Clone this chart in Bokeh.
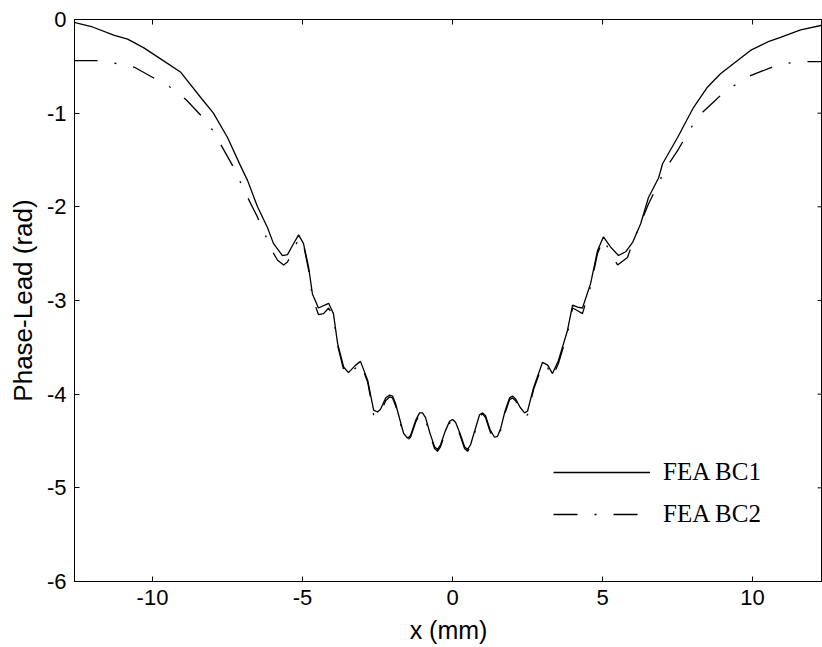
import math
from bokeh.plotting import figure
from bokeh.models import Range1d, Legend, LegendItem, FixedTicker
from bokeh.embed import file_html
from bokeh.resources import INLINE

# ---- data ----
bc1_x = [-12.63, -12.0, -11.27, -10.83, -10.3, -9.73, -9.07, -8.4, -7.97, -7.5, -7.07, -6.83,
         -6.5, -6.17, -5.97, -5.67, -5.5, -5.33, -5.13, -4.97, -4.8, -4.67, -4.47, -4.13, -3.97,
         -3.83, -3.63, -3.47, -3.23, -3.07, -2.83, -2.63, -2.5, -2.4, -2.23, -2.1, -2.0, -1.9,
         -1.8, -1.63, -1.5, -1.4, -1.23, -1.1, -1.0, -0.9, -0.75, -0.6, -0.5, -0.4, -0.25, -0.1,
         0.0, 0.1, 0.25, 0.4, 0.5, 0.6, 0.75, 0.9, 1.0, 1.1, 1.25, 1.4, 1.5, 1.6, 1.75, 1.9,
         2.0, 2.1, 2.25, 2.4, 2.5, 2.7, 3.0, 3.17, 3.33, 3.53, 3.83, 4.0, 4.17, 4.33, 4.6, 4.83,
         5.03, 5.27, 5.53, 5.77, 6.0, 6.27, 6.53, 6.87, 7.0, 7.5, 8.03, 8.5, 8.93, 9.37, 9.93,
         10.5, 10.93, 11.6, 12.33]
bc1_y = [-0.03, -0.08, -0.17, -0.21, -0.3, -0.42, -0.56, -0.83, -1.0, -1.26, -1.56, -1.72,
         -2.0, -2.22, -2.39, -2.52, -2.51, -2.41, -2.3, -2.39, -2.64, -2.93, -3.08, -3.03, -3.14,
         -3.46, -3.71, -3.77, -3.69, -3.65, -3.85, -4.17, -4.19, -4.16, -4.04, -4.01, -4.02, -4.1,
         -4.22, -4.42, -4.47, -4.44, -4.28, -4.2, -4.2, -4.25, -4.42, -4.56, -4.59, -4.54, -4.4, -4.29,
         -4.27, -4.3, -4.42, -4.56, -4.59, -4.54, -4.38, -4.22, -4.2, -4.23, -4.38, -4.46, -4.45, -4.37, -4.18, -4.04,
         -4.02, -4.05, -4.14, -4.2, -4.18, -3.93, -3.66, -3.69, -3.78, -3.64, -3.32, -3.05, -3.07, -3.08, -2.82, -2.47,
         -2.32, -2.43, -2.52, -2.48, -2.38, -2.18, -1.9, -1.69, -1.54, -1.26, -0.94, -0.72, -0.58, -0.47, -0.33,
         -0.24, -0.19, -0.11, -0.06]

bc2_x = [-12.63, -11.83, -11.2, -10.6, -9.93, -9.37, -8.87, -8.4, -8.0, -7.33, -6.83, -6.5,
         -6.23, -6.0, -5.83, -5.63, -5.5, -5.3, -5.1, -4.97, -4.8, -4.67, -4.47, -4.3, -4.13,
         -3.97, -3.83, -3.63, -3.47, -3.23, -3.07, -2.83, -2.63, -2.5, -2.4, -2.23, -2.1, -2.0,
         -1.9, -1.8, -1.63, -1.5, -1.4, -1.23, -1.1, -1.0, -0.9, -0.75, -0.6, -0.5, -0.4, -0.25,
         -0.1, 0.0, 0.1, 0.25, 0.4, 0.5, 0.6, 0.75, 0.9, 1.0, 1.1, 1.25, 1.4, 1.5, 1.6, 1.75,
         1.9, 2.0, 2.1, 2.25, 2.4, 2.5, 2.7, 3.0, 3.17, 3.33, 3.53, 3.83, 4.0, 4.17, 4.33, 4.6, 4.83,
         5.03, 5.27, 5.5, 5.83, 6.03, 6.53, 7.1, 7.5, 7.83, 8.17, 8.7, 9.1, 9.93, 10.87, 11.6, 12.33]
bc2_y = [-0.44, -0.44, -0.47, -0.51, -0.63, -0.73, -0.86, -1.02, -1.18, -1.56, -1.9, -2.11,
         -2.31, -2.48, -2.57, -2.62, -2.59, -2.45, -2.33, -2.4, -2.67, -2.97, -3.15, -3.14, -3.08,
         -3.17, -3.48, -3.74, -3.8, -3.72, -3.67, -3.87, -4.22, -4.24, -4.2, -4.07, -4.03, -4.04,
         -4.12, -4.24, -4.44, -4.49, -4.46, -4.3, -4.22, -4.21, -4.27, -4.44, -4.58, -4.61, -4.56, -4.42,
         -4.31, -4.28, -4.31, -4.44, -4.58, -4.61, -4.56, -4.4, -4.24, -4.21, -4.25, -4.4, -4.48, -4.47, -4.39, -4.2,
         -4.06, -4.04, -4.07, -4.16, -4.23, -4.22, -3.95, -3.68, -3.72, -3.82, -3.67, -3.35, -3.08, -3.11, -3.14,
         -2.85, -2.5, -2.34, -2.5, -2.62, -2.54, -2.36, -1.97, -1.59, -1.4, -1.22, -1.04, -0.88, -0.76,
         -0.6, -0.48, -0.45, -0.45]

x_ticks = [-10, -5, 0, 5, 10]
y_ticks = [0, -1, -2, -3, -4, -5, -6]
series_names = ["FEA BC1", "FEA BC2"]

SANS = "Liberation Sans"
SERIF = "Liberation Serif"

p = figure(width=822, height=647, output_backend="svg", toolbar_location=None,
           x_range=Range1d(-12.6, 12.33), y_range=Range1d(-6, 0),
           min_border_left=74, min_border_right=0, min_border_top=19, min_border_bottom=66)
p.background_fill_color = "white"
p.border_fill_color = "white"
p.outline_line_color = "black"
p.outline_line_width = 1
p.xgrid.visible = False
p.ygrid.visible = False

for ax in (p.xaxis[0], p.yaxis[0]):
    ax.major_tick_in = 5
    ax.major_tick_out = 0
    ax.minor_tick_in = 0
    ax.minor_tick_out = 0
    ax.axis_line_color = "black"
    ax.major_tick_line_color = "black"
    ax.major_label_text_font = SANS
    ax.major_label_text_font_size = "22px"
    ax.major_label_text_color = "black"
    ax.axis_label_text_font = SANS
    ax.axis_label_text_font_style = "normal"
    ax.axis_label_text_color = "black"
    ax.major_label_standoff = 8

p.xaxis[0].ticker = FixedTicker(ticks=x_ticks)
p.yaxis[0].ticker = FixedTicker(ticks=y_ticks)
p.xaxis[0].major_label_overrides = {t: str(t) for t in x_ticks}
p.yaxis[0].major_label_overrides = {t: str(t) for t in y_ticks}
p.xaxis[0].axis_label = "x (mm)"
p.yaxis[0].axis_label = "Phase-Lead (rad)"
p.xaxis[0].axis_label_text_font_size = "25px"
p.yaxis[0].axis_label_text_font_size = "26px"
p.xaxis[0].axis_label_standoff = 8
p.yaxis[0].axis_label_standoff = 6

# inward ticks on the top and right edges of the box
p.ray(x=x_ticks, y=[p.y_range.end] * len(x_ticks), length=5, length_units="screen",
      angle=-math.pi / 2, line_color="black", line_width=1)
p.ray(x=[p.x_range.end] * len(y_ticks), y=y_ticks, length=5, length_units="screen",
      angle=math.pi, line_color="black", line_width=1)

r1 = p.line(bc1_x, bc1_y, line_color="black", line_width=1.3)
r2 = p.line(bc2_x, bc2_y, line_color="black", line_width=1.3, line_dash="24 17 2 17")

legend = Legend(items=[LegendItem(label=series_names[0], renderers=[r1]),
                       LegendItem(label=series_names[1], renderers=[r2])],
                location=(479, 53), glyph_width=97, glyph_height=20, label_height=20,
                spacing=14, padding=0, margin=0, label_standoff=13,
                label_text_font=SERIF, label_text_font_size="25px", label_text_color="black",
                border_line_alpha=0, background_fill_alpha=0)
p.add_layout(legend)

open("out.html", "w").write(file_html(p, INLINE))
